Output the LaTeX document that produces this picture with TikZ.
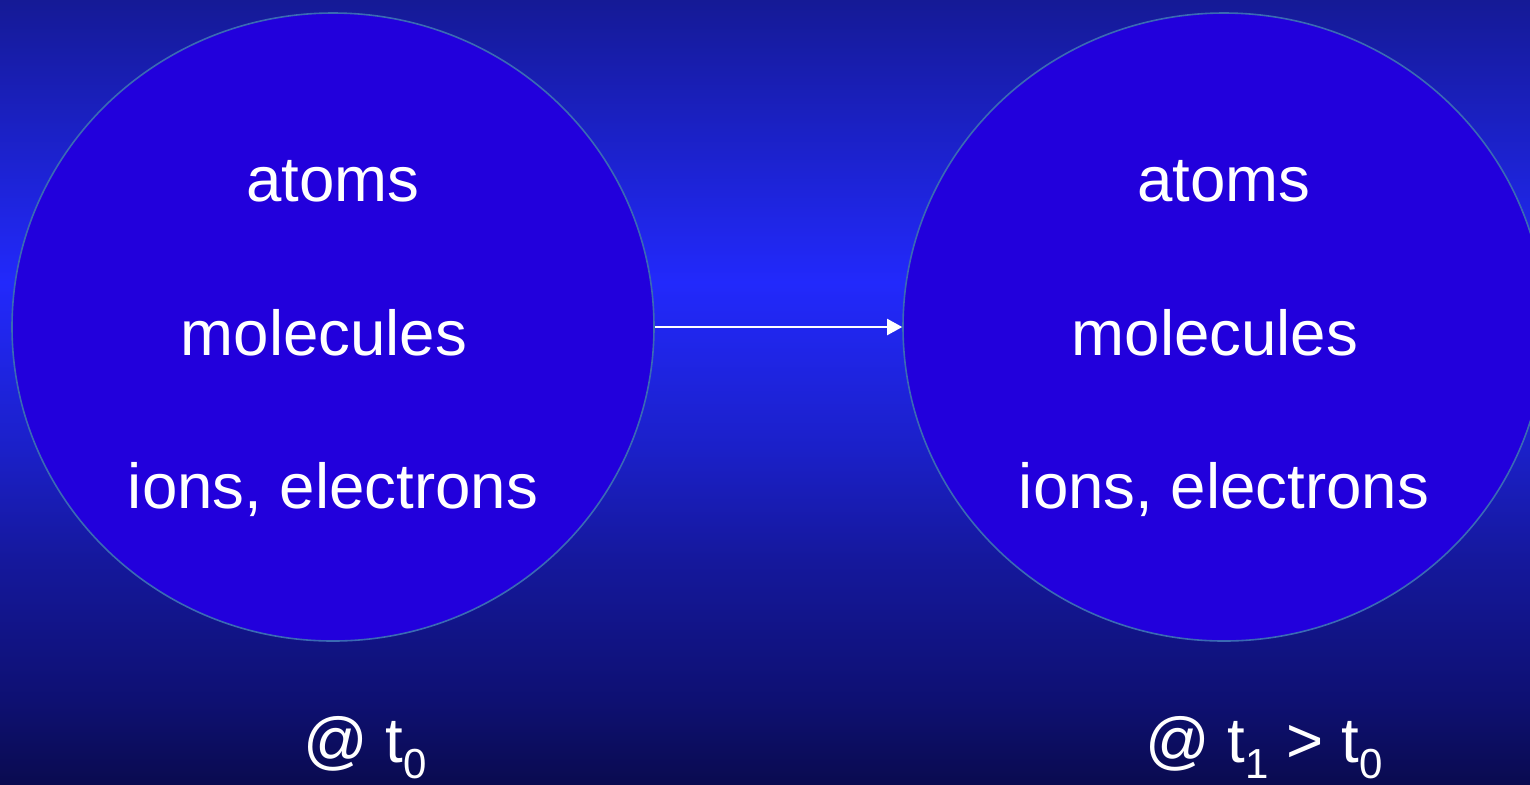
\documentclass[tikz,border=0pt]{standalone}
\usepackage{fontspec}
\setmainfont{Liberation Sans}
\usepackage{tikz}
\usetikzlibrary{arrows.meta,shapes.geometric}
\definecolor{bgTop}{HTML}{151A96}
\definecolor{bgMid}{HTML}{2229FC}
\definecolor{bgUp}{HTML}{1B20C8}
\definecolor{bgLow}{HTML}{15189C}
\definecolor{bgDeep}{HTML}{0E1072}
\definecolor{bgBot}{HTML}{0A0B50}
\definecolor{cellFill}{HTML}{2200DC}
\definecolor{cellEdge}{HTML}{3A6AB4}
% stops lie between 25bp and 75bp, the part that covers the path
\pgfdeclareverticalshading{bgshade}{100bp}{color(0bp)=(bgBot); color(25bp)=(bgBot);
  color(30.35bp)=(bgDeep); color(39.3bp)=(bgLow); color(46.3bp)=(bgUp);
  color(57bp)=(bgMid); color(75bp)=(bgTop); color(100bp)=(bgTop)}
\newcommand{\lowidx}[1]{\raisebox{-0.26em}{\fontsize{21}{21}\selectfont #1}}

\begin{document}
\begin{tikzpicture}[x=0.5pt,y=-0.5pt,
    cell/.style={ellipse,draw=cellEdge,line width=0.8pt,fill=cellFill,
      minimum width=321pt,minimum height=314pt,inner sep=0pt},
    word/.style={text=white,font=\fontsize{31.8}{36}\selectfont,anchor=base,inner sep=0pt},
    arrow/.style={-{Triangle[length=7.5pt,width=8pt]},white,line width=1pt}]
    \useasboundingbox (0,0) rectangle (1530,784);
    \shade[shading=bgshade] (0,0) rectangle (1530,784);
    \node[cell] (before) at (333,327) {};
    \node[cell] (after) at (1224,327) {};
    % contents of the two states
    \node[word] (atomsA) at (333,201) {atoms};
    \node[word] (molA) at (324,355) {molecules};
    \node[word] (ionsA) at (333,508) {ions, electrons};
    \node[word] (atomsB) at (1224,201) {atoms};
    \node[word] (molB) at (1215,355) {molecules};
    \node[word] (ionsB) at (1224,508) {ions, electrons};
    % times
    \node[word] (timeA) at (365,762) {@ t\lowidx{0}};
    \node[word] (timeB) at (1264,762) {@ t\lowidx{1} > t\lowidx{0}};
    \draw[arrow] (before.east)--(after.west);
  \end{tikzpicture}
\end{document}
